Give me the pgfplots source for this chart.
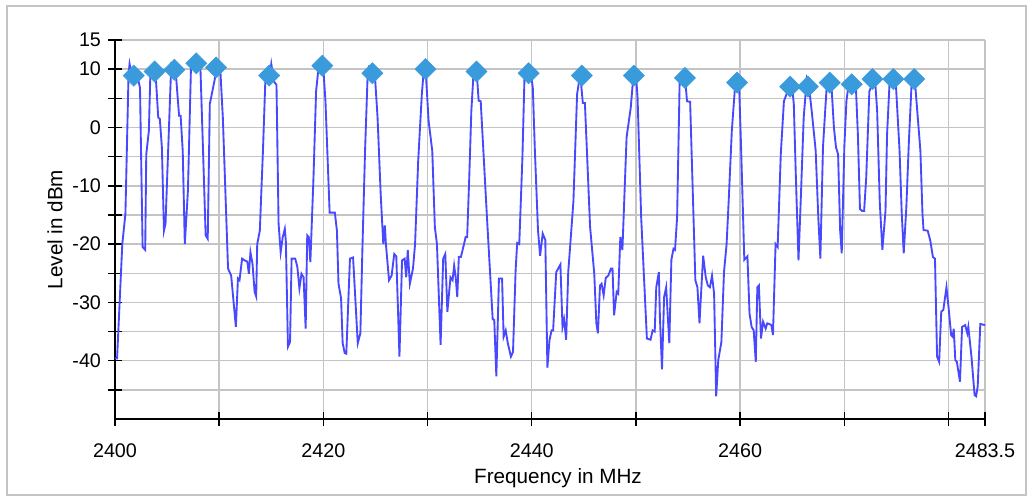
\documentclass[border=0pt]{standalone}
\usepackage{fontspec}
\setmainfont{Liberation Sans}
\usepackage{pgfplots}
\pgfplotsset{compat=1.18}
\usepackage{pgfplotstable}

\definecolor{trace}{RGB}{72,72,255}
\definecolor{peak}{RGB}{58,155,220}
\definecolor{gridgray}{RGB}{196,196,196}
\definecolor{framegray}{RGB}{196,196,196}

\pgfplotstableread{
x y
2400.0 -39.6
2400.2 -39.6
2400.7 -20.0
2401.0 -14.8
2401.3 9.1
2401.4 10.9
2401.6 9.1
2401.8 9.4
2402.1 9.2
2402.4 6.8
2402.65 -20.5
2402.9 -21.0
2403.0 -4.6
2403.25 -0.6
2403.4 9.5
2403.7 9.6
2403.9 9.1
2404.15 1.7
2404.3 1.5
2404.5 -3.4
2404.7 -17.7
2404.85 -16.5
2405.1 -4.0
2405.4 10.9
2405.8 10.2
2406.15 2.0
2406.3 2.0
2406.5 -4.0
2406.7 -20.0
2407.0 -10.8
2407.3 10.9
2407.6 10.7
2407.95 10.9
2408.2 10.2
2408.45 -4.0
2408.7 -18.5
2408.9 -19.1
2409.1 4.0
2409.6 8.5
2409.8 10.5
2410.1 10.2
2410.35 1.7
2410.85 -24.2
2411.15 -25.4
2411.6 -34.2
2411.8 -25.9
2411.95 -26.2
2412.2 -22.5
2412.45 -22.8
2412.7 -23.0
2412.85 -25.1
2413.0 -21.4
2413.2 -23.4
2413.4 -28.2
2413.55 -29.0
2413.65 -20.0
2413.9 -17.7
2414.2 -4.0
2414.45 9.1
2414.7 9.2
2414.85 8.9
2415.0 10.9
2415.25 7.9
2415.5 7.3
2415.7 -16.5
2415.9 -21.4
2416.1 -18.8
2416.3 -17.4
2416.4 -19.6
2416.6 -37.6
2416.8 -36.8
2416.95 -22.5
2417.3 -22.5
2417.5 -23.9
2417.7 -27.6
2417.9 -25.1
2418.1 -25.7
2418.3 -34.5
2418.45 -18.5
2418.6 -18.8
2418.75 -23.1
2419.05 -8.6
2419.3 6.2
2419.55 10.5
2419.8 10.8
2420.0 10.0
2420.2 4.5
2420.6 -14.6
2421.1 -14.6
2421.3 -17.7
2421.45 -26.8
2421.7 -29.3
2421.85 -37.0
2422.05 -38.7
2422.2 -38.8
2422.55 -22.5
2422.85 -22.3
2423.3 -37.0
2423.55 -35.3
2423.75 -20.5
2424.0 -4.0
2424.25 9.1
2424.4 10.5
2424.7 10.3
2424.95 8.8
2425.2 1.7
2425.5 -11.4
2425.75 -20.0
2425.9 -16.8
2426.0 -20.0
2426.3 -26.2
2426.55 -25.4
2426.8 -21.7
2427.0 -22.1
2427.3 -39.3
2427.55 -22.8
2427.8 -22.5
2427.95 -25.7
2428.1 -21.0
2428.3 -26.8
2428.6 -24.2
2428.8 -20.0
2429.1 -5.7
2429.45 5.7
2429.65 10.2
2429.8 10.3
2430.1 1.1
2430.45 -4.0
2430.7 -17.1
2430.9 -20.0
2431.25 -37.3
2431.5 -22.5
2431.7 -21.7
2431.9 -31.6
2432.2 -25.7
2432.4 -26.2
2432.55 -23.7
2432.7 -25.7
2432.85 -29.1
2433.0 -22.2
2433.2 -22.2
2433.5 -20.0
2433.65 -18.8
2433.8 -18.8
2434.0 -8.6
2434.2 2.8
2434.45 10.5
2434.7 10.0
2434.9 4.6
2435.1 4.5
2435.7 -15.4
2436.25 -32.9
2436.4 -33.0
2436.6 -42.7
2436.85 -25.9
2437.15 -25.9
2437.3 -35.9
2437.5 -34.8
2437.7 -37.0
2438.0 -39.3
2438.2 -38.5
2438.45 -24.5
2438.6 -19.8
2438.8 -20.0
2439.1 -5.3
2439.3 8.5
2439.6 9.2
2439.9 9.6
2440.1 6.8
2440.3 -4.0
2440.6 -17.7
2440.8 -22.0
2441.05 -18.2
2441.3 -19.3
2441.5 -41.2
2441.7 -36.5
2441.9 -34.8
2442.05 -34.8
2442.35 -24.8
2442.75 -23.5
2442.95 -34.2
2443.1 -32.9
2443.3 -36.4
2443.5 -24.8
2443.7 -20.0
2444.0 -12.6
2444.35 5.7
2444.65 9.2
2444.9 4.2
2445.1 4.2
2445.6 -17.1
2446.0 -25.1
2446.2 -33.6
2446.35 -35.3
2446.55 -27.1
2446.7 -26.8
2446.9 -28.8
2447.1 -25.8
2447.35 -25.4
2447.6 -24.2
2447.75 -24.2
2447.9 -32.2
2448.15 -28.2
2448.3 -28.5
2448.5 -18.8
2448.7 -21.0
2449.1 -1.7
2449.5 3.4
2449.75 8.8
2450.0 8.9
2450.15 5.4
2450.5 -15.4
2451.05 -36.2
2451.4 -36.4
2451.6 -34.8
2451.8 -35.0
2451.95 -27.4
2452.2 -24.8
2452.3 -32.6
2452.5 -41.5
2452.7 -29.1
2452.9 -27.4
2453.2 -37.0
2453.4 -22.7
2453.6 -20.8
2453.75 -21.0
2453.95 -15.4
2454.2 8.5
2454.4 8.8
2454.7 8.8
2454.9 4.5
2455.2 4.4
2455.6 -20.0
2455.7 -26.2
2455.9 -27.4
2456.1 -33.6
2456.2 -30.1
2456.45 -22.0
2456.7 -25.7
2456.9 -27.1
2457.1 -27.4
2457.3 -25.4
2457.5 -28.5
2457.7 -46.1
2457.9 -39.9
2458.2 -36.8
2458.45 -24.8
2458.7 -20.0
2458.9 -12.6
2459.2 -0.6
2459.5 6.8
2459.7 8.1
2459.9 7.4
2460.1 -4.0
2460.4 -22.7
2460.7 -22.1
2460.9 -31.9
2461.1 -34.2
2461.3 -34.8
2461.5 -40.2
2461.65 -27.4
2461.8 -27.1
2462.0 -36.2
2462.2 -33.3
2462.45 -34.5
2462.6 -33.6
2462.8 -33.7
2463.0 -33.9
2463.15 -35.6
2463.4 -20.0
2463.6 -20.5
2463.9 -4.6
2464.2 4.5
2464.45 5.7
2464.75 7.1
2465.0 6.8
2465.15 4.0
2465.35 -8.6
2465.6 -22.8
2465.85 -10.8
2466.1 1.7
2466.4 8.5
2466.55 7.9
2466.9 2.3
2467.25 -4.0
2467.5 -15.4
2467.7 -22.5
2467.95 -3.4
2468.2 4.0
2468.35 8.1
2468.5 8.5
2468.75 7.6
2469.0 0.0
2469.2 -3.4
2469.4 -4.6
2469.6 -17.7
2469.75 -21.6
2470.0 -3.3
2470.2 4.5
2470.45 8.0
2470.65 7.6
2470.9 7.6
2471.1 7.3
2471.3 -1.2
2471.5 -14.0
2471.7 -14.3
2471.9 -14.3
2472.1 -8.6
2472.4 6.2
2472.6 7.1
2472.8 8.5
2472.95 8.2
2473.15 2.8
2473.4 -12.8
2473.65 -21.0
2473.95 -14.3
2474.1 -1.2
2474.35 8.0
2474.5 8.2
2474.75 8.5
2474.95 7.3
2475.3 -4.0
2475.5 -14.3
2475.7 -21.6
2475.95 -13.7
2476.2 -2.2
2476.45 7.3
2476.6 7.6
2476.75 8.5
2477.0 2.8
2477.3 -4.0
2477.5 -14.8
2477.6 -17.6
2478.0 -17.7
2478.25 -19.4
2478.5 -22.2
2478.7 -22.5
2478.9 -39.3
2479.1 -40.2
2479.3 -31.6
2479.5 -31.3
2479.8 -27.4
2480.0 -30.8
2480.25 -35.6
2480.4 -35.9
2480.5 -34.5
2480.65 -39.9
2480.8 -40.2
2481.1 -43.6
2481.3 -34.2
2481.6 -33.9
2481.8 -35.3
2481.9 -34.2
2482.2 -39.3
2482.5 -45.9
2482.65 -46.1
2482.8 -44.4
2483.05 -33.7
2483.5 -33.9
}\spectrum

\pgfplotstableread{
x y
2401.8 8.9
2403.8 9.6
2405.7 9.9
2407.8 11.0
2409.7 10.3
2414.8 8.9
2419.9 10.6
2424.7 9.3
2429.8 10.0
2434.7 9.6
2439.7 9.3
2444.8 8.9
2449.8 8.9
2454.7 8.5
2459.7 7.7
2464.8 7.0
2466.5 7.0
2468.6 7.7
2470.7 7.4
2472.7 8.3
2474.7 8.3
2476.7 8.3
}\peaks

\begin{document}
\begin{tikzpicture}
\useasboundingbox (-86.25pt,-58.5pt) rectangle (687.75pt,314.25pt);
\fill[white] (-86.25pt,-58.5pt) rectangle (687.75pt,314.25pt);
\draw[framegray, line width=1.2pt] (-81pt,-57pt) rectangle (683.25pt,309.75pt);
\begin{axis}[
    scale only axis,
    width=652.5pt,
    height=284.25pt,
    xmin=2400, xmax=2483.5,
    ymin=-50, ymax=15,
    axis x line*=bottom,
    axis y line*=left,
    axis line style={-, black, line width=1.1pt},
    xtick={2400,2410,2420,2430,2440,2450,2460,2470,2480,2483.5},
    xticklabels={2400,,2420,,2440,,2460,,,2483.5},
    ytick={-45,-40,-35,-30,-25,-20,-15,-10,-5,0,5,10,15},
    yticklabels={,-40,,-30,,-20,,-10,,0,,10,15},
    tick align=center,
    major tick length=10pt,
    tick style={black, line width=1.1pt},
    grid=major,
    grid style={gridgray, line width=1.1pt},
    tick label style={font=\fontsize{14.8pt}{17pt}\selectfont},
    xticklabel style={anchor=center, yshift=-19pt},
    yticklabel style={anchor=east, xshift=-2pt},
    xlabel={Frequency in MHz},
    ylabel={Level in dBm},
    every axis x label/.style={at={(axis description cs:0.5,0)}, anchor=center,
        xshift=6pt, yshift=-44pt, font=\fontsize{15.5pt}{18pt}\selectfont},
    every axis y label/.style={at={(axis description cs:0,0.5)}, anchor=center,
        rotate=90, yshift=45pt, font=\fontsize{15.5pt}{18pt}\selectfont},
    clip=false,
]
\addplot[only marks, mark=square*, mark size=5.6pt,
    mark options={rotate=45, fill=peak, draw=peak}] table[x=x, y=y] {\peaks};
\addplot[trace, line width=1.4pt, no marks] table[x=x, y=y] {\spectrum};
\end{axis}
\end{tikzpicture}
\end{document}
